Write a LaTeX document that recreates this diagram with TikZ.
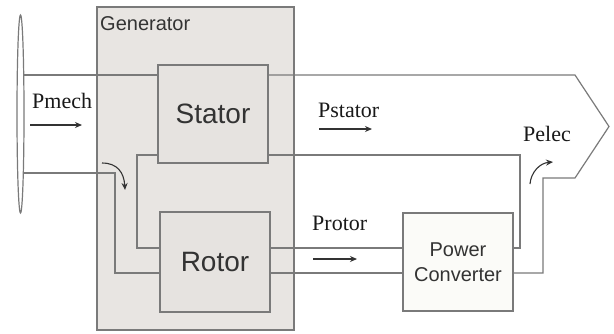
\documentclass[tikz,border=0pt]{standalone}
\usepackage{fontspec}
\setmainfont{Liberation Serif}
\newfontfamily\boxfont{Liberation Sans}
\usetikzlibrary{shapes.geometric,arrows.meta}
\definecolor{lnc}{HTML}{7A7A7A}
\definecolor{genfill}{HTML}{E8E5E2}
\definecolor{boxfill}{HTML}{E6E3E0}
\definecolor{pcfill}{HTML}{FBFBF8}
\definecolor{txt}{HTML}{333333}
\tikzset{
  wire/.style={draw=lnc, line width=1.2pt},
  blockbox/.style={draw=lnc, line width=1.2pt, fill=boxfill, inner sep=0pt, text=txt,
     font=\boxfont\fontsize{28}{30}\selectfont},
  flow/.style={draw=black!80, line width=1.1pt, -{Stealth[length=7pt,width=6pt]}},
  plabel/.style={font=\fontsize{22}{24}\selectfont, text=black!90, inner sep=0pt}
}
\begin{document}
\begin{tikzpicture}[x=1pt,y=-1pt]
\useasboundingbox (0,0) rectangle (614,333);
\fill[white] (0,0) rectangle (614,333);
% generator box
\node[draw=lnc, line width=1.2pt, fill=genfill, minimum width=197pt, minimum height=323pt, inner sep=0pt] (gen) at (195.5,168.5) {};
\node[anchor=west, font=\boxfont\fontsize{20}{22}\selectfont, text=txt, inner sep=0pt] (genlabel) at (100,24) {Generator};
% shaft ellipse
\node[draw=lnc, line width=1.2pt, ellipse, minimum width=7pt, minimum height=198pt, inner sep=0pt] (shaft) at (20.5,114) {};
% blocks
\node[blockbox, minimum width=110pt, minimum height=98pt] (stator) at (213,114) {Stator};
\node[blockbox, minimum width=110pt, minimum height=100pt] (rotor) at (215,262) {Rotor};
\node[blockbox, fill=pcfill, minimum width=110pt, minimum height=98pt, align=center,
      font=\boxfont\fontsize{20}{25}\selectfont] (pc) at (458,262) {Power\\Converter};
% helper coordinates
\coordinate (y75) at (0,75);
\coordinate (y155) at (0,155);
\coordinate (y248) at (0,248);
\coordinate (y273) at (0,273);
\coordinate (s1) at (24,75);
\coordinate (s2) at (24,173);
\coordinate (a1) at (575,75);
\coordinate (tip) at (609,126.5);
\coordinate (a2) at (575,178);
\coordinate (a3) at (543,178);
\coordinate (l1) at (137,155);
\coordinate (l2) at (115,173);
\coordinate (r1) at (520,155);
% wires
\draw[wire] (s1) -- (stator.west |- y75);
\draw[wire] (stator.east |- y75) -- (a1) -- (tip) -- (a2) -- (a3) |- (pc.east |- y273);
\draw[wire] (stator.east |- y155) -- (r1) |- (pc.east |- y248);
\draw[wire] (stator.west |- y155) -- (l1) |- (rotor.west |- y248);
\draw[wire] (s2) -- (l2) |- (rotor.west |- y273);
\draw[wire] (rotor.east |- y248) -- (pc.west |- y248);
\draw[wire] (rotor.east |- y273) -- (pc.west |- y273);
% labels and flow arrows
\node[plabel, anchor=west] (pmech) at (32,101) {Pmech};
\draw[flow] (30,125) -- (82,125);
\node[plabel, anchor=west] (pstator) at (318,110) {Pstator};
\draw[flow] (319,129) -- (372,129);
\node[plabel, anchor=west] (protor) at (312,223) {Protor};
\draw[flow] (313,259) -- (357,259);
\node[plabel, anchor=west] (pelec) at (523,134) {Pelec};
\draw[flow] (102,163) .. controls (117,163) and (124,172) .. (125,190);
\draw[flow] (530,184) .. controls (531,172) and (540,163) .. (553,162);
\end{tikzpicture}
\end{document}
